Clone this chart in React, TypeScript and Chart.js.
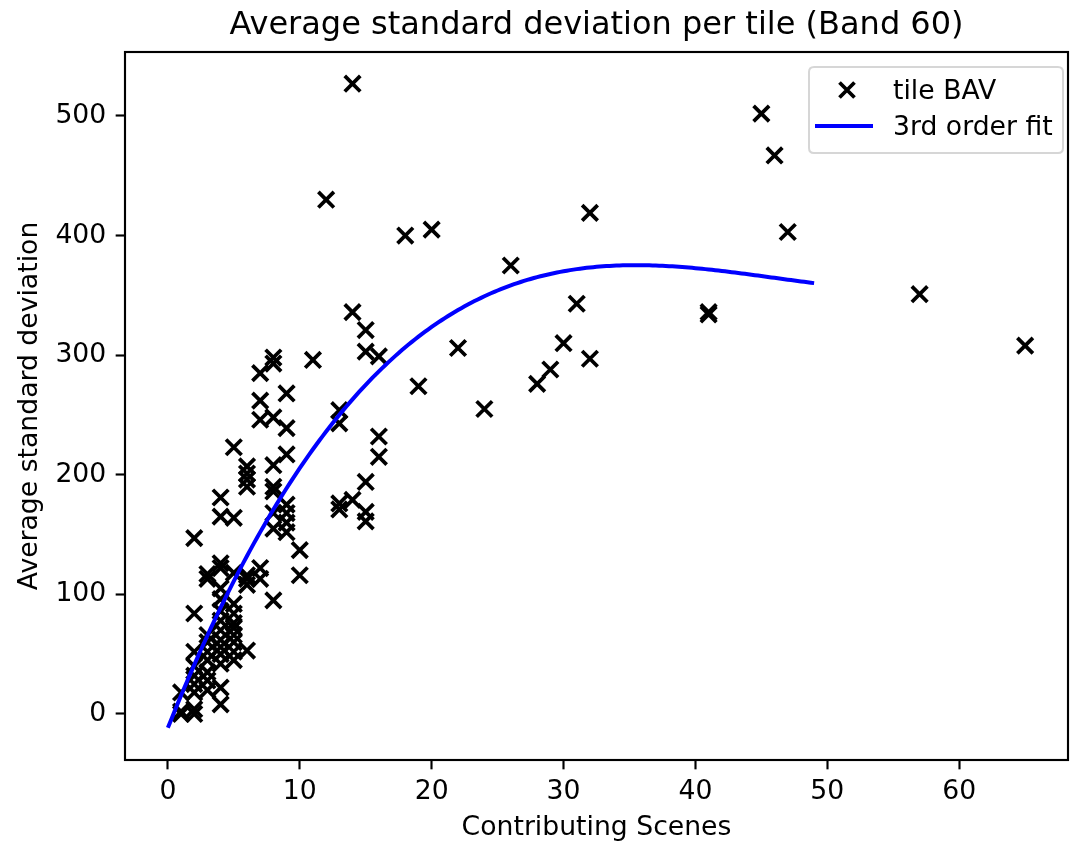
import React, { useEffect, useRef } from "react";
import { Chart, registerables } from "chart.js";

Chart.register(...registerables);

// Tile measurements: number of contributing scenes vs. average standard deviation
const sceneCounts = [
  1, 1, 1,
  2, 2, 2, 2, 2, 2, 2, 2, 2,
  3, 3, 3, 3, 3, 3, 3, 3, 3,
  4, 4, 4, 4, 4, 4, 4, 4, 4, 4, 4, 4, 4, 4, 4,
  5, 5, 5, 5, 5, 5, 5, 5, 5, 5, 5,
  6, 6, 6, 6, 6, 6, 6, 6,
  7, 7, 7, 7, 7,
  8, 8, 8, 8, 8, 8, 8, 8, 8,
  9, 9, 9, 9, 9, 9, 9,
  10, 10,
  11,
  12,
  13, 13, 13, 13,
  14, 14, 14,
  15, 15, 15, 15, 15,
  16, 16, 16,
  18, 19, 20, 22, 24, 26, 28, 29, 30, 31, 32, 32, 41, 41, 45, 46, 47, 57, 65,
];

const avgStd = [
  0, 2, 18,
  0, 4, 18, 25, 32, 40, 52, 84, 147,
  20, 28, 35, 45, 52, 60, 66, 113, 117,
  8, 22, 42, 50, 56, 62, 70, 78, 86, 96, 105, 122, 126, 165, 181,
  45, 52, 60, 66, 72, 76, 84, 92, 118, 164, 223,
  53, 108, 113, 116, 190, 196, 201, 207,
  113, 122, 246, 262, 285,
  95, 155, 168, 186, 190, 208, 248, 293, 298,
  152, 160, 168, 175, 217, 239, 268,
  116, 137,
  296,
  430,
  171, 176, 243, 254,
  179, 336, 527,
  161, 169, 194, 303, 321,
  215, 232, 299,
  400, 274, 405, 306, 255, 375, 276, 288, 310, 343, 297, 419, 334, 336, 502, 467, 403, 351, 308,
];

// Cubic fit: c0 + c1*x + c2*x^2 + c3*x^3, drawn over the fitted x range
const fitCoefficients = [-11.6, 27.58, -0.6328, 0.004588];
const fitRange = [0, 49];

const xTicks = [0, 10, 20, 30, 40, 50, 60];
const yTicks = [0, 100, 200, 300, 400, 500];
const xLimits = [-3.25, 68.25];
const yLimits = [-38.5, 553.5];

const titleText = "Average standard deviation per tile (Band 60)";
const xLabel = "Contributing Scenes";
const yLabel = "Average standard deviation";
const legendLabels = ["tile BAV", "3rd order fit"];

const FONT = "'DejaVu Sans', 'Liberation Sans', sans-serif";
const PX_PER_PT = 2.667;
const MARKER_LINE = 1.4 * PX_PER_PT;

function evalFit(x: number): number {
  return fitCoefficients.reduce((acc, c, i) => acc + c * Math.pow(x, i), 0);
}

function drawCross(ctx: CanvasRenderingContext2D, x: number, y: number, half: number) {
  ctx.beginPath();
  ctx.moveTo(x - half, y - half);
  ctx.lineTo(x + half, y + half);
  ctx.moveTo(x + half, y - half);
  ctx.lineTo(x - half, y + half);
  ctx.stroke();
}

const framePlugin = {
  id: "frame",
  afterDatasetsDraw(chart: any) {
    const { ctx, chartArea } = chart;
    ctx.save();
    ctx.strokeStyle = "#000";
    ctx.lineWidth = 0.8 * PX_PER_PT;
    ctx.strokeRect(chartArea.left, chartArea.top, chartArea.right - chartArea.left, chartArea.bottom - chartArea.top);
    ctx.restore();
  },
  afterDraw(chart: any) {
    const { ctx, chartArea } = chart;
    ctx.save();
    // Title above the axes
    ctx.fillStyle = "#000";
    ctx.font = `${12 * PX_PER_PT}px ${FONT}`;
    ctx.textAlign = "center";
    ctx.textBaseline = "alphabetic";
    ctx.fillText(titleText, (chartArea.left + chartArea.right) / 2, chartArea.top - 18);

    // Legend box in the upper right corner
    const boxRight = chartArea.right - 5;
    const boxLeft = boxRight - 254;
    const boxTop = chartArea.top + 15;
    const boxBottom = boxTop + 86;
    const r = 5;
    ctx.beginPath();
    ctx.moveTo(boxLeft + r, boxTop);
    ctx.lineTo(boxRight - r, boxTop);
    ctx.quadraticCurveTo(boxRight, boxTop, boxRight, boxTop + r);
    ctx.lineTo(boxRight, boxBottom - r);
    ctx.quadraticCurveTo(boxRight, boxBottom, boxRight - r, boxBottom);
    ctx.lineTo(boxLeft + r, boxBottom);
    ctx.quadraticCurveTo(boxLeft, boxBottom, boxLeft, boxBottom - r);
    ctx.lineTo(boxLeft, boxTop + r);
    ctx.quadraticCurveTo(boxLeft, boxTop, boxLeft + r, boxTop);
    ctx.closePath();
    ctx.fillStyle = "rgba(255,255,255,0.8)";
    ctx.fill();
    ctx.strokeStyle = "rgba(204,204,204,0.8)";
    ctx.lineWidth = 2;
    ctx.stroke();

    const handleLeft = boxLeft + 6;
    const handleRight = handleLeft + 58;
    const textX = boxLeft + 84;
    const row1 = boxTop + 23;
    const row2 = boxTop + 59;

    ctx.strokeStyle = "#000";
    ctx.lineWidth = MARKER_LINE;
    drawCross(ctx, (handleLeft + handleRight) / 2 + 3, row1, 7.5);

    ctx.strokeStyle = "#0000ff";
    ctx.lineWidth = 1.5 * PX_PER_PT;
    ctx.beginPath();
    ctx.moveTo(handleLeft, row2);
    ctx.lineTo(handleRight, row2);
    ctx.stroke();

    ctx.fillStyle = "#000";
    ctx.font = `${10 * PX_PER_PT}px ${FONT}`;
    ctx.textAlign = "left";
    ctx.textBaseline = "alphabetic";
    ctx.fillText(legendLabels[0], textX, row1 + 9);
    ctx.fillText(legendLabels[1], textX, row2 + 9);
    ctx.restore();
  },
};

export default function App() {
  const canvasRef = useRef<HTMLCanvasElement | null>(null);

  useEffect(() => {
    document.body.style.margin = "0";
    const canvas = canvasRef.current;
    if (!canvas) return;

    const scatterPoints = sceneCounts.map((x, i) => ({ x, y: avgStd[i] }));
    const fitPoints: { x: number; y: number }[] = [];
    for (let x = fitRange[0]; x <= fitRange[1] + 1e-9; x += 0.25) {
      fitPoints.push({ x, y: evalFit(x) });
    }

    const tickFont = { family: FONT, size: 10 * PX_PER_PT };

    const chart = new Chart(canvas, {
      type: "scatter",
      data: {
        datasets: [
          {
            label: legendLabels[0],
            data: scatterPoints,
            pointStyle: "crossRot",
            pointRadius: 11,
            pointHoverRadius: 11,
            borderColor: "#000",
            backgroundColor: "#000",
            borderWidth: MARKER_LINE,
            order: 1,
          },
          {
            type: "line",
            label: legendLabels[1],
            data: fitPoints,
            borderColor: "#0000ff",
            borderWidth: 1.5 * PX_PER_PT,
            pointRadius: 0,
            showLine: true,
            fill: false,
            tension: 0,
            order: 0,
          },
        ],
      },
      options: {
        responsive: false,
        animation: false,
        events: [],
        layout: { autoPadding: false, padding: { top: 52, right: 3, left: 0, bottom: 0 } },
        plugins: {
          legend: { display: false },
          title: { display: false },
          tooltip: { enabled: false },
        },
        scales: {
          x: {
            type: "linear",
            min: xLimits[0],
            max: xLimits[1],
            afterBuildTicks: (scale: any) => {
              scale.ticks = xTicks.map((v) => ({ value: v }));
            },
            afterFit: (scale: any) => {
              scale.height = 85;
              scale.paddingLeft = 0;
              scale.paddingRight = 0;
            },
            grid: {
              drawOnChartArea: false,
              drawTicks: true,
              tickLength: 3.5 * PX_PER_PT,
              tickColor: "#000",
              tickWidth: 0.8 * PX_PER_PT,
            },
            border: { display: false },
            ticks: {
              color: "#000",
              font: tickFont,
              padding: 7,
              autoSkip: false,
              maxRotation: 0,
              callback: (v: any) => String(v),
            },
            title: {
              display: true,
              text: xLabel,
              color: "#000",
              font: tickFont,
              padding: { top: 0, bottom: 0.5 },
            },
          },
          y: {
            type: "linear",
            min: yLimits[0],
            max: yLimits[1],
            afterBuildTicks: (scale: any) => {
              scale.ticks = yTicks.map((v) => ({ value: v }));
            },
            afterFit: (scale: any) => {
              scale.width = 125;
              scale.paddingTop = 0;
              scale.paddingBottom = 0;
            },
            grid: {
              drawOnChartArea: false,
              drawTicks: true,
              tickLength: 3.5 * PX_PER_PT,
              tickColor: "#000",
              tickWidth: 0.8 * PX_PER_PT,
            },
            border: { display: false },
            ticks: {
              color: "#000",
              font: tickFont,
              padding: 9.4,
              autoSkip: false,
              callback: (v: any) => String(v),
            },
            title: {
              display: true,
              text: yLabel,
              color: "#000",
              font: tickFont,
              padding: { top: 14.5, bottom: 0 },
            },
          },
        },
      },
      plugins: [framePlugin],
    } as any);

    return () => chart.destroy();
  }, []);

  return (
    <div style={{ position: "absolute", left: 0, top: 0, width: 1071, height: 845, background: "#fff" }}>
      <canvas ref={canvasRef} width={1071} height={845} style={{ display: "block" }} />
    </div>
  );
}
